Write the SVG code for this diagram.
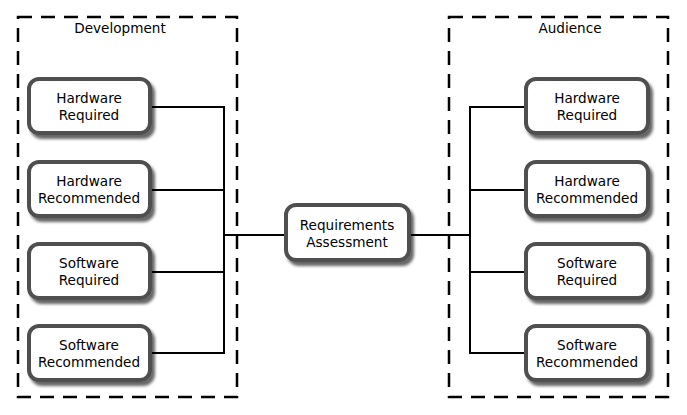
<svg xmlns="http://www.w3.org/2000/svg" width="687" height="415" viewBox="0 0 687 415">
<style>
.cont{fill:none;stroke:#000;stroke-width:2.5;stroke-dasharray:14 9}
.box{fill:#fff;stroke:#505050;stroke-width:4}
.t{font-family:"DejaVu Sans",Verdana,sans-serif;font-size:13.6px;fill:#000;text-anchor:middle}
.c{fill:none;stroke:#000;stroke-width:2}
</style>
<defs>
<filter id="sh" x="-20%" y="-20%" width="140%" height="150%">
<feDropShadow dx="3" dy="4" stdDeviation="1.8" flood-color="#000" flood-opacity="0.6"/>
</filter>
</defs>
<rect width="687" height="415" fill="#fff"/>
<g id="development">
<rect class="cont" x="18" y="17" width="219" height="380"/>
<text class="t" x="120" y="33">Development</text>
</g>
<g id="audience">
<rect class="cont" x="449" y="17" width="219" height="380"/>
<text class="t" x="570" y="33">Audience</text>
</g>
<g id="connectors">
<polyline class="c" points="152,107 224,107 224,353 152,353"/>
<line class="c" x1="152" y1="190" x2="224" y2="190"/>
<line class="c" x1="152" y1="272" x2="224" y2="272"/>
<line class="c" x1="224" y1="235" x2="286" y2="235"/>
<line class="c" x1="409" y1="235" x2="470" y2="235"/>
<polyline class="c" points="526,107 470,107 470,353 526,353"/>
<line class="c" x1="470" y1="190" x2="526" y2="190"/>
<line class="c" x1="470" y1="272" x2="526" y2="272"/>
</g>
<g id="dev-hw-req"><rect class="box" filter="url(#sh)" x="29" y="79" width="121" height="54" rx="10"/><text class="t" x="89" y="103">Hardware</text><text class="t" x="89" y="120">Required</text></g>
<g id="dev-hw-rec"><rect class="box" filter="url(#sh)" x="29" y="162" width="121" height="54" rx="10"/><text class="t" x="89" y="186">Hardware</text><text class="t" x="89" y="203">Recommended</text></g>
<g id="dev-sw-req"><rect class="box" filter="url(#sh)" x="29" y="244" width="121" height="54" rx="10"/><text class="t" x="89" y="268">Software</text><text class="t" x="89" y="285">Required</text></g>
<g id="dev-sw-rec"><rect class="box" filter="url(#sh)" x="29" y="326" width="121" height="54" rx="10"/><text class="t" x="89" y="350">Software</text><text class="t" x="89" y="367">Recommended</text></g>
<g id="requirements-assessment"><rect class="box" filter="url(#sh)" x="286" y="205" width="123" height="55" rx="10"/><text class="t" x="347" y="230">Requirements</text><text class="t" x="347" y="247">Assessment</text></g>
<g id="aud-hw-req"><rect class="box" filter="url(#sh)" x="526" y="79" width="122" height="54" rx="10"/><text class="t" x="587" y="103">Hardware</text><text class="t" x="587" y="120">Required</text></g>
<g id="aud-hw-rec"><rect class="box" filter="url(#sh)" x="526" y="162" width="122" height="54" rx="10"/><text class="t" x="587" y="186">Hardware</text><text class="t" x="587" y="203">Recommended</text></g>
<g id="aud-sw-req"><rect class="box" filter="url(#sh)" x="526" y="244" width="122" height="54" rx="10"/><text class="t" x="587" y="268">Software</text><text class="t" x="587" y="285">Required</text></g>
<g id="aud-sw-rec"><rect class="box" filter="url(#sh)" x="526" y="326" width="122" height="54" rx="10"/><text class="t" x="587" y="350">Software</text><text class="t" x="587" y="367">Recommended</text></g>
</svg>
